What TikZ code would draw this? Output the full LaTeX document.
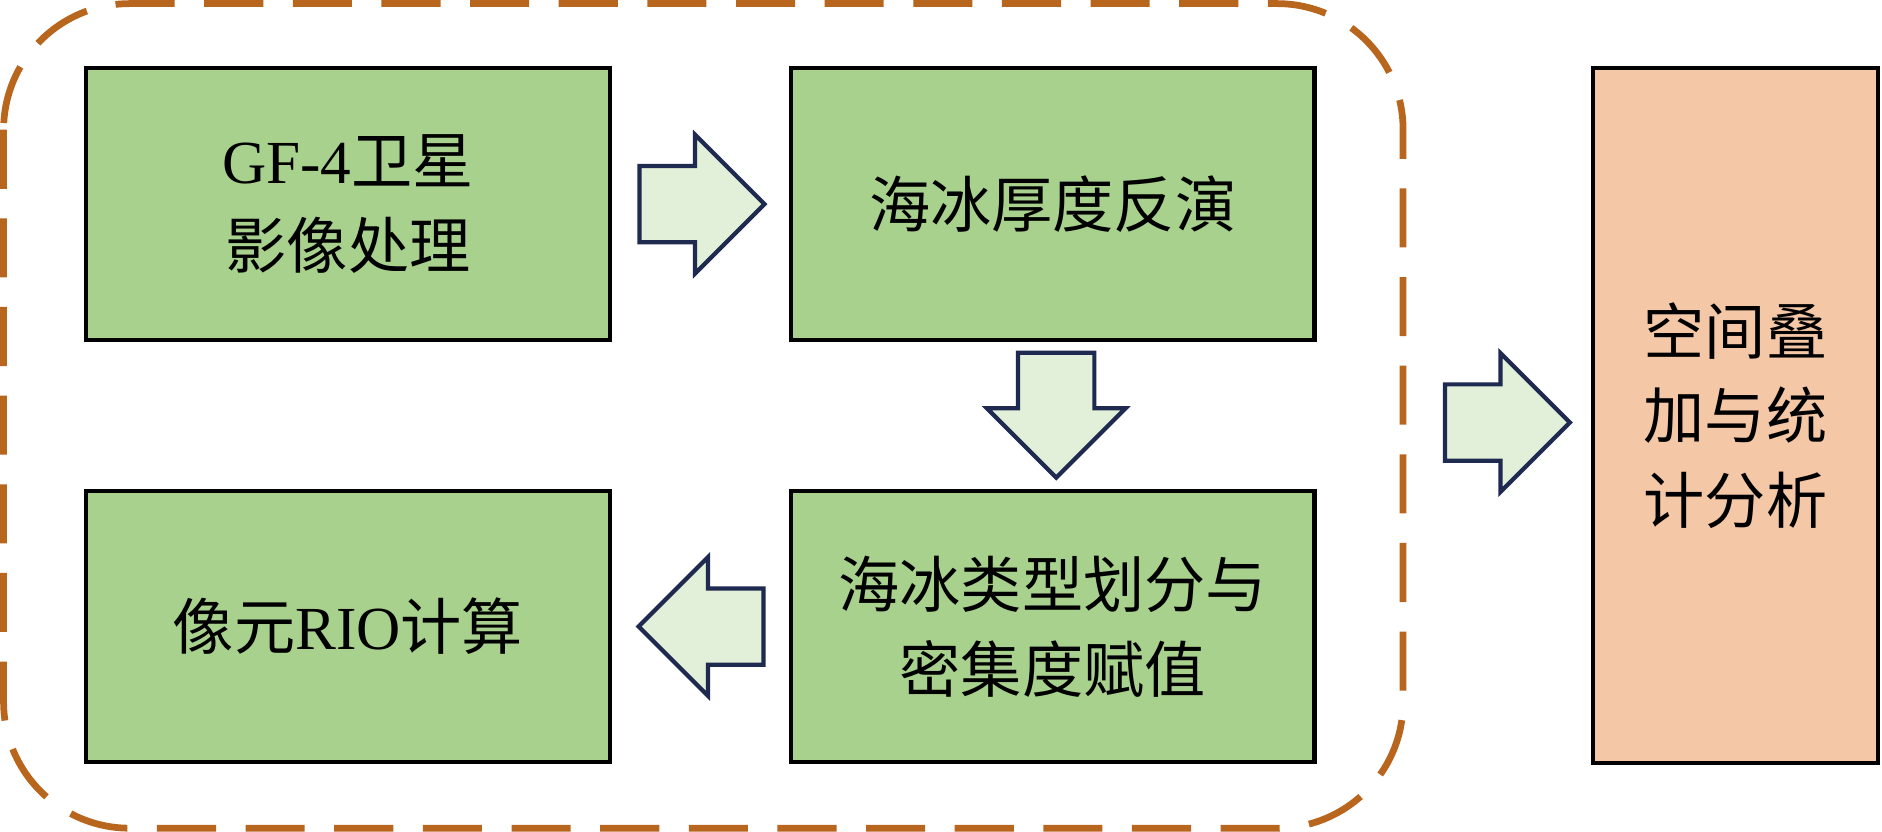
\documentclass[tikz,border=0pt]{standalone}
\usepackage{fontspec}
\setmainfont{Liberation Serif}
\newfontfamily\cjk{Noto Sans CJK SC}
\usetikzlibrary{shapes.arrows,positioning}
\definecolor{boxgreen}{HTML}{A9D18E}
\definecolor{arrowfill}{HTML}{E2F0D9}
\definecolor{arrowline}{HTML}{1F2A50}
\definecolor{framecol}{HTML}{B8651E}
\definecolor{boxpeach}{HTML}{F4C7A7}
\begin{document}
\begin{tikzpicture}[x=0.01cm,y=-0.01cm,
  stepbox/.style={rectangle, draw=black, line width=1pt, fill=boxgreen, minimum width=4.36cm, minimum height=2.26cm, align=center, font=\fontsize{14.5}{20}\selectfont},
  flow/.style={single arrow, draw=arrowline, line width=1pt, fill=arrowfill, inner sep=0.3cm, minimum width=1.12cm, minimum height=1.04cm, single arrow head extend=0.26cm}
]
\useasboundingbox (0,0) rectangle (1568,693);

% Frame round the processing steps
\draw[framecol, line width=1.6pt, dash pattern=on 14pt off 7pt, rounded corners=1.05cm] (3,3) rectangle (1169,690);

% Steps
\node[stepbox] (img) at (290,170) {GF-4{\cjk 卫星}\\{\cjk 影像处理}};
\node[stepbox] (thick) at (877,170) {\cjk 海冰厚度反演};
\node[stepbox] (type) at (877,522) {{\cjk 海冰类型划分与}\\{\cjk 密集度赋值}};
\node[stepbox] (rio) at (290,522) {{\cjk 像元}RIO{\cjk 计算}};

% Result
\node[rectangle, draw=black, line width=1pt, fill=boxpeach, minimum width=2.37cm, minimum height=5.79cm, align=center, font=\fontsize{14.5}{20}\selectfont] (stat) at (1446,346) {{\cjk 空间叠}\\{\cjk 加与统}\\{\cjk 计分析}};

% Flow arrows
\node[flow] (a1) at (569,170) {};
\node[flow, shape border rotate=270] (a2) at (880,330) {};
\node[flow, shape border rotate=180] (a3) at (600,522) {};
\node[flow] (a4) at (1240,352) {};
\end{tikzpicture}
\end{document}
